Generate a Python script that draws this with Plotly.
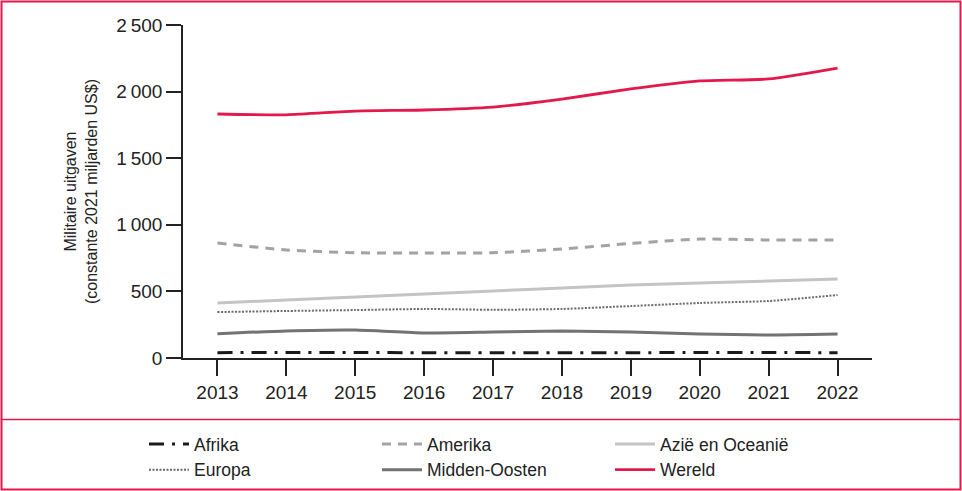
import plotly.graph_objects as go

years = [2013, 2014, 2015, 2016, 2017, 2018, 2019, 2020, 2021, 2022]
afrika = [40, 42, 41, 40, 39, 39, 40, 41, 41, 40]
amerika = [863, 811, 790, 788, 790, 818, 860, 893, 886, 886]
azie = [413, 435, 458, 480, 503, 525, 548, 563, 578, 593]
europa = [345, 353, 360, 368, 362, 368, 390, 413, 428, 473]
midden_oosten = [182, 203, 210, 188, 195, 203, 195, 180, 173, 180]
wereld = [1832, 1826, 1854, 1862, 1884, 1944, 2020, 2080, 2095, 2177]

series = [
    ("Afrika", afrika, "#1a1a1a", "15px,8px,3px,8px", 3),
    ("Amerika", amerika, "#a3a3a3", "9px,7px", 3),
    ("Azië en Oceanië", azie, "#c4c4c4", "solid", 3),
    ("Europa", europa, "#6a6a6a", "2px,1.5px", 2),
    ("Midden-Oosten", midden_oosten, "#737373", "solid", 3),
    ("Wereld", wereld, "#e3194b", "solid", 2.8),
]

W, H = 962, 491
ml, mr, mt, mb = 183, 90, 25, 133
pw, ph = W - ml - mr, H - mt - mb

def px(x):
    return (x - ml) / pw

def py(y):
    return (H - mb - y) / ph

fig = go.Figure()
for name, vals, color, dash, w in series:
    fig.add_trace(go.Scatter(
        x=years, y=vals, name=name, mode="lines",
        line=dict(color=color, dash=dash, width=w, shape="spline", smoothing=0.6),
    ))

red = "#e3194b"
fig.add_shape(type="rect", xref="paper", yref="paper",
              x0=px(1.5), x1=px(960.5), y0=py(1.5), y1=py(489.5),
              line=dict(color=red, width=2))
fig.add_shape(type="line", xref="paper", yref="paper",
              x0=px(1.5), x1=px(960.5), y0=py(419.5), y1=py(419.5),
              line=dict(color=red, width=1.5))

font_family = "Liberation Sans, Arial, sans-serif"
fig.update_layout(
    width=W, height=H,
    margin=dict(l=ml, r=mr, t=mt, b=mb, autoexpand=False),
    paper_bgcolor="white", plot_bgcolor="white",
    separators=",\u2009",
    font=dict(family=font_family, color="#222222", size=19),
    showlegend=True,
    legend=dict(
        orientation="h", x=px(144), y=py(426), xanchor="left", yanchor="top",
        entrywidth=178, entrywidthmode="pixels",
        font=dict(size=17.5, color="#222222"),
        tracegroupgap=0, itemwidth=40,
    ),
    xaxis=dict(
        range=[2012.5, 2022.5], tickmode="array", tickvals=years,
        ticktext=[str(y) for y in years],
        showgrid=False, zeroline=False, automargin=False,
        showline=True, linecolor="#222222", linewidth=1.5,
        ticks="outside", ticklen=16, tickwidth=1.5, tickcolor="#222222",
        tickfont=dict(size=19),
    ),
    yaxis=dict(
        range=[0, 2500], tickvals=[0, 500, 1000, 1500, 2000, 2500],
        tickformat=",d", automargin=False,
        showgrid=False, zeroline=False,
        showline=True, linecolor="#222222", linewidth=1.5,
        ticks="outside", ticklen=15, tickwidth=1.5, tickcolor="#222222",
        tickfont=dict(size=19),
        title=dict(text="Militaire uitgaven<br>(constante 2021 miljarden US$)",
                   font=dict(size=16), standoff=15),
    ),
    hovermode=False,
)

fig.write_html("out.html", config={"displayModeBar": False},
               post_script="document.body.style.margin='0';document.body.style.overflow='hidden';")
